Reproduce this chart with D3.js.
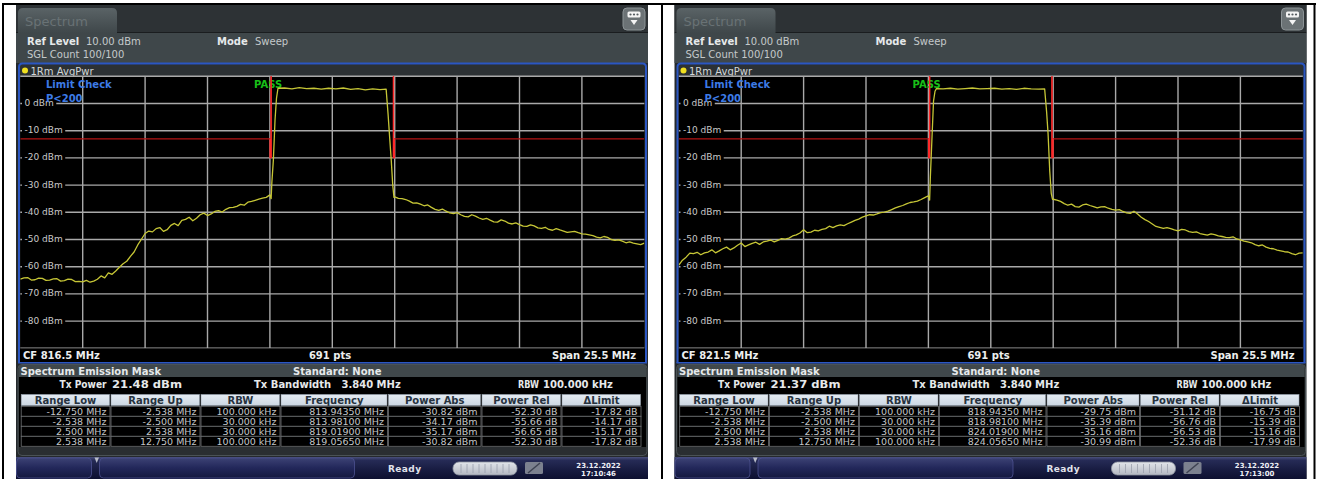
<!DOCTYPE html>
<html><head><meta charset="utf-8">
<script src="https://cdn.jsdelivr.net/npm/d3@7"></script>
<style>
html,body{margin:0;padding:0;background:#fff;}
svg{display:block;font-family:"DejaVu Sans",Verdana,sans-serif;}
</style></head><body>
<svg id="chart" width="1318" height="479"></svg>
<script>
// ---- Spectrum emission mask sweeps, two carriers (CF 816.5 / 821.5 MHz) ----
// frequency offset from the centre frequency, MHz
const offsetsMHz = [
  // lower skirt
  -12.75,-12.60,-12.45,-12.30,-12.15,-12.00,-11.85,-11.70,-11.55,-11.40,
  -11.25,-11.10,-10.95,-10.80,-10.65,-10.50,-10.35,-10.20,-10.05,-9.90,
  -9.75,-9.60,-9.45,-9.30,-9.15,-9.00,-8.85,-8.70,-8.55,-8.40,
  -8.25,-8.10,-7.95,-7.80,-7.65,-7.50,-7.35,-7.20,-7.05,-6.90,
  -6.75,-6.60,-6.45,-6.30,-6.15,-6.00,-5.85,-5.70,-5.55,-5.40,
  -5.25,-5.10,-4.95,-4.80,-4.65,-4.50,-4.35,-4.20,-4.05,-3.90,
  -3.75,-3.60,-3.45,-3.30,-3.15,-3.00,-2.85,-2.70,-2.55,
  // channel
  -2.50,-2.47,-2.41,-2.34,-2.28,-2.22,
  -1.95,-1.65,-1.35,-1.05,-0.75,-0.45,-0.15,0.15,0.45,0.75,1.05,1.35,1.65,1.95,
  2.20,2.28,2.34,2.41,2.47,2.52,
  // upper skirt
  2.55,2.70,2.85,3.00,3.15,3.30,3.45,3.60,3.75,3.90,
  4.05,4.20,4.35,4.50,4.65,4.80,4.95,5.10,5.25,5.40,
  5.55,5.70,5.85,6.00,6.15,6.30,6.45,6.60,6.75,6.90,
  7.05,7.20,7.35,7.50,7.65,7.80,7.95,8.10,8.25,8.40,
  8.55,8.70,8.85,9.00,9.15,9.30,9.45,9.60,9.75,9.90,
  10.05,10.20,10.35,10.50,10.65,10.80,10.95,11.10,11.25,11.40,
  11.55,11.70,11.85,12.00,12.15,12.30,12.45,12.60,12.75
];
// measured level, dBm (CF 816.5 MHz)
const levelsCF8165 = [
  -64.6,-64.1,-64.0,-64.9,-64.8,-64.2,-64.3,-65.0,-64.9,-64.5,
  -64.4,-65.3,-65.1,-64.6,-64.7,-65.5,-65.4,-65.6,-65.0,-65.7,
  -65.3,-64.6,-63.4,-64.1,-62.3,-62.8,-61.6,-60.2,-58.9,-58.0,
  -56.2,-54.6,-52.0,-49.9,-47.8,-46.9,-47.2,-46.0,-45.6,-47.0,
  -46.4,-44.8,-44.1,-44.9,-43.0,-42.6,-41.8,-43.1,-42.2,-40.9,
  -40.3,-41.2,-40.6,-39.7,-39.4,-39.9,-38.9,-38.3,-38.2,-37.8,
  -37.1,-37.4,-36.3,-36.0,-35.6,-35.2,-34.8,-34.5,-33.6,
  -35.0,-29,-21,-6,2,5.6,
  5.7,5.4,5.8,5.5,5.6,5.3,5.6,5.4,5.7,5.2,5.5,5.0,5.4,5.1,
  5.3,-4,-12,-21,-30,-34.5,
  -34.3,-34.9,-35.0,-35.3,-35.9,-36.6,-36.5,-37.0,-37.6,-37.3,
  -38.2,-38.9,-39.3,-38.8,-39.6,-40.2,-40.5,-40.1,-40.9,-41.5,
  -41.7,-40.9,-41.4,-42.1,-42.6,-42.2,-42.9,-43.5,-43.6,-42.8,
  -43.2,-44.0,-44.3,-43.9,-44.5,-45.1,-45.2,-44.6,-45.0,-45.7,
  -45.9,-45.5,-46.3,-46.6,-46.0,-46.5,-46.9,-47.4,-47.2,-47.0,
  -47.5,-47.9,-48.0,-48.3,-48.6,-49.1,-49.4,-48.9,-49.2,-50.0,
  -50.3,-50.1,-50.6,-51.2,-50.9,-51.3,-51.6,-51.9,-51.3
];
// measured level, dBm (CF 821.5 MHz)
const levelsCF8215 = [
  -59.4,-57.6,-56.5,-55.0,-55.2,-54.7,-55.6,-54.9,-54.6,-53.8,
  -54.9,-54.2,-53.4,-52.8,-53.8,-53.1,-52.1,-51.3,-52.6,-52.0,
  -51.4,-51.0,-51.8,-50.9,-50.6,-50.2,-50.9,-50.3,-49.7,-49.9,
  -49.5,-48.7,-48.3,-47.6,-46.4,-47.5,-47.3,-46.6,-46.8,-46.3,
  -46.0,-45.1,-45.6,-45.0,-44.6,-44.9,-44.2,-43.6,-43.0,-42.5,
  -41.8,-41.3,-40.9,-41.0,-40.6,-40.1,-39.9,-39.6,-39.0,-38.4,
  -37.9,-37.5,-36.9,-36.4,-36.2,-35.9,-35.3,-34.6,-33.9,
  -35.5,-27,-14,1,4.5,5.5,
  5.4,5.6,5.3,5.5,5.7,5.4,5.5,5.6,5.3,5.5,5.2,5.6,5.4,5.3,
  5.4,-3,-11,-25,-33,-35.2,
  -35.2,-35.5,-36.0,-36.8,-37.4,-37.0,-37.9,-38.1,-37.3,-37.0,
  -37.5,-37.9,-38.4,-38.0,-37.9,-38.5,-38.9,-39.2,-39.0,-39.7,
  -40.2,-40.4,-39.6,-40.6,-41.8,-42.7,-43.4,-44.3,-45.2,-45.5,
  -45.9,-45.6,-46.0,-46.5,-46.8,-46.3,-46.5,-47.1,-47.4,-47.2,
  -47.8,-48.1,-48.4,-47.9,-48.2,-48.7,-48.9,-49.2,-49.3,-49.0,
  -49.8,-50.1,-50.6,-50.9,-51.2,-51.9,-52.3,-52.0,-52.8,-53.3,
  -53.4,-53.9,-54.2,-54.5,-54.6,-55.2,-55.6,-55.0,-54.9
];

// emission mask limit (dBm) vs offset (MHz)
const limitOffsetsMHz = [-12.75,-2.538,-2.538,-2.5,-2.5,2.5,2.5,2.538,2.538,12.75];
const limitLevelsDbm  = [-13,-13,-20,-20,30,30,-20,-20,-13,-13];

const gridOffsetsMHz = [-10.2,-7.65,-5.1,-2.55,0,2.55,5.1,7.65,10.2];
const levelTicksDbm = [0,-10,-20,-30,-40,-50,-60,-70,-80];

const centreFreqMHz = [816.5, 821.5];
const sweepPoints = 691;
const txPowerDbm = [21.48, 21.37];
const sweepDate = ["23.12.2022", "23.12.2022"];
const sweepTime = ["17:10:46", "17:13:00"];

const semColumns = ["Range Low","Range Up","RBW","Frequency","Power Abs","Power Rel","\u0394Limit"];
const rangeLow = ["-12.750 MHz","-2.538 MHz","2.500 MHz","2.538 MHz"];
const rangeUp  = ["-2.538 MHz","-2.500 MHz","2.538 MHz","12.750 MHz"];
const rbwList  = ["100.000 kHz","30.000 kHz","30.000 kHz","100.000 kHz"];
const peakFreqA = ["813.94350 MHz","813.98100 MHz","819.01900 MHz","819.05650 MHz"];
const powerAbsA = [-30.82,-34.17,-35.17,-30.82];
const powerRelA = [-52.30,-55.66,-56.65,-52.30];
const deltaLimitA = [-17.82,-14.17,-15.17,-17.82];
const peakFreqB = ["818.94350 MHz","818.98100 MHz","824.01900 MHz","824.05650 MHz"];
const powerAbsB = [-29.75,-35.39,-35.16,-30.99];
const powerRelB = [-51.12,-56.76,-56.53,-52.36];
const deltaLimitB = [-16.75,-15.39,-15.16,-17.99];

// ---- drawing ----
const svg = d3.select("#chart");
const defs = svg.append("defs");

function vGrad(id, stops) {
  const lg = defs.append("linearGradient").attr("id", id)
    .attr("x1", 0).attr("y1", 0).attr("x2", 0).attr("y2", 1);
  stops.forEach(([o, c]) => lg.append("stop").attr("offset", o).attr("stop-color", c));
}
vGrad("tabGrad", [[0, "#5a6366"], [1, "#3f474a"]]);
vGrad("barGrad", [[0, "#4a507c"], [0.15, "#262b56"], [0.6, "#171b40"], [1, "#0d1030"]]);
vGrad("btnGrad", [[0, "#3c4274"], [0.5, "#22275a"], [1, "#14183e"]]);
vGrad("pillGrad", [[0, "#e2e5ea"], [1, "#b4b8c2"]]);
vGrad("hdrGrad", [[0, "#e4ebf2"], [1, "#ccd7e2"]]);

defs.append("clipPath").attr("id", "plotClip")
  .append("rect").attr("x", 20.3).attr("y", 76.3).attr("width", 624).attr("height", 272);

const x = d3.scaleLinear().domain([-12.75, 12.75]).range([20.3, 644.3]);
const y = d3.scaleLinear().domain([10, -90]).range([76.3, 348.3]);

const colEdges = [20.7, 110.5, 200.5, 280.5, 388, 481.5, 561.5, 641.5];
const fmt2 = v => v.toFixed(2);

const panels = [
  {dx: 0, levels: levelsCF8165, freq: peakFreqA, abs: powerAbsA, rel: powerRelA, dl: deltaLimitA},
  {dx: 658.5, levels: levelsCF8215, freq: peakFreqB, abs: powerAbsB, rel: powerRelB, dl: deltaLimitB}
];

function txt(g, s, px, py, o = {}) {
  const t = g.append("text").attr("x", px).attr("y", py).text(s)
    .attr("font-size", o.size || 10)
    .attr("font-weight", o.bold ? "bold" : "normal")
    .attr("fill", o.fill || "#c8ccce")
    .attr("text-anchor", o.anchor || "start");
  if (o.ls) t.attr("letter-spacing", o.ls);
  if (o.len) t.attr("textLength", o.len).attr("lengthAdjust", "spacingAndGlyphs");
  return t;
}

// vertical steps of the mask, drawn brighter than the flat limits
const limitPts = limitOffsetsMHz.map((o, k) => [o, limitLevelsDbm[k]]);
const limitSteps = d3.pairs(limitPts).filter(([a, b]) => a[0] === b[0]);

panels.forEach((p, i) => {
  const g = svg.append("g").attr("transform", `translate(${p.dx},0)`);

  // instrument screen background
  g.append("rect").attr("x", 16).attr("y", 5).attr("width", 632).attr("height", 474).attr("fill", "#25292c");
  g.append("rect").attr("x", 16).attr("y", 5).attr("width", 632).attr("height", 27).attr("fill", "#2d3235");
  g.append("rect").attr("x", 16).attr("y", 32).attr("width", 632).attr("height", 1.2).attr("fill", "#1a1d1f");
  g.append("rect").attr("x", 16).attr("y", 33).attr("width", 632).attr("height", 30).attr("fill", "#3f474a");

  // tab
  g.append("path").attr("d", "M18,33 L18,13 Q18,8 23,8 L112,8 Q117,8 117,13 L117,33 Z").attr("fill", "url(#tabGrad)");
  txt(g, "Spectrum", 25, 26, {size: 13, fill: "#697275"});

  // menu icon
  g.append("rect").attr("x", 623).attr("y", 8).attr("width", 22).attr("height", 22).attr("rx", 4)
    .attr("fill", "#6b7275").attr("stroke", "#8c9396");
  g.append("rect").attr("x", 627.5).attr("y", 11.5).attr("width", 13).attr("height", 6).attr("rx", 1.5).attr("fill", "#f4f4f4");
  [630.5, 634, 637.5].forEach(cx => g.append("circle").attr("cx", cx).attr("cy", 14.5).attr("r", 1.1).attr("fill", "#555c60"));
  g.append("path").attr("d", "M630.5,20 L637.5,20 L634,25 Z").attr("fill", "#f4f4f4");

  // header info
  txt(g, "Ref Level", 27, 45, {bold: true, fill: "#e6e9ea"});
  txt(g, "10.00 dBm", 86, 45, {fill: "#c4c9cb"});
  txt(g, "Mode", 217, 45, {bold: true, fill: "#e6e9ea"});
  txt(g, "Sweep", 255, 45, {fill: "#c4c9cb"});
  txt(g, "SGL Count 100/100", 27, 58, {fill: "#c4c9cb"});

  // diagram header row
  g.append("rect").attr("x", 20).attr("y", 64.5).attr("width", 625).attr("height", 12).attr("fill", "#2c3134");
  g.append("circle").attr("cx", 25).attr("cy", 70.6).attr("r", 3).attr("fill", "#f0e020");
  txt(g, "1Rm AvgPwr", 30.5, 74.5, {fill: "#d2d6d7"});

  // plot area
  g.append("rect").attr("x", 20.3).attr("y", 76.3).attr("width", 624).attr("height", 272).attr("fill", "#000");

  const grid = g.append("g").attr("stroke", "#a9a9a9").attr("stroke-width", 1.4);
  grid.selectAll("line.v").data(gridOffsetsMHz).join("line")
    .attr("x1", d => x(d)).attr("x2", d => x(d)).attr("y1", y(10)).attr("y2", y(-90));
  grid.selectAll("line.h").data(y.ticks(10)).join("line")
    .attr("x1", x(-12.75)).attr("x2", x(12.75)).attr("y1", d => y(d)).attr("y2", d => y(d));

  // level labels, each with a black patch behind it
  const tl = g.append("g");
  levelTicksDbm.forEach(v => {
    const t = txt(tl, `${v} dBm`, 24.5, y(v), {size: 9, fill: "#c9c9c9"}).attr("dominant-baseline", "middle");
    const w = t.node().getComputedTextLength();
    tl.insert("rect", "text").attr("x", 22).attr("y", y(v) - 2).attr("width", w + 5).attr("height", 4).attr("fill", "#000");
  });

  // limit check status
  txt(g, "Limit Check", 46, 88, {bold: true, fill: "#3d7be6"});
  txt(g, "P<200", 46, 101.5, {bold: true, fill: "#3d7be6"});
  txt(g, "PASS", 254, 87.5, {bold: true, fill: "#18c018"});

  const pc = g.append("g").attr("clip-path", "url(#plotClip)");
  const line = d3.line().x(d => x(d[0])).y(d => y(d[1]));
  pc.append("path").datum(limitPts)
    .attr("d", line).attr("fill", "none").attr("stroke", "#b41414").attr("stroke-width", 1.1);
  pc.selectAll("line.step").data(limitSteps).join("line")
    .attr("x1", d => x(d[0][0])).attr("x2", d => x(d[1][0]))
    .attr("y1", d => y(d[0][1])).attr("y2", d => y(d[1][1]))
    .attr("stroke", "#ff2a2a").attr("stroke-width", 1.4);

  pc.append("path").datum(offsetsMHz.map((o, k) => [o, p.levels[k]]))
    .attr("d", line).attr("fill", "none").attr("stroke", "#c6c636").attr("stroke-width", 1.3)
    .attr("stroke-linejoin", "round");

  // status row under diagram
  g.append("rect").attr("x", 20).attr("y", 348.3).attr("width", 625).attr("height", 14).attr("fill", "#000");
  txt(g, `CF ${centreFreqMHz[i]} MHz`, 23, 359, {bold: true, fill: "#eceeee"});
  txt(g, `${sweepPoints} pts`, 330, 359, {bold: true, fill: "#eceeee", anchor: "middle"});
  txt(g, "Span 25.5 MHz", 636, 359, {bold: true, fill: "#eceeee", anchor: "end"});

  // diagram frame
  g.append("path").attr("d", "M19,363 L19,67 Q19,63.5 22.5,63.5 L642.5,63.5 Q646,63.5 646,67 L646,363")
    .attr("fill", "none").attr("stroke", "#2b56c2").attr("stroke-width", 2);
  g.append("line").attr("x1", 18).attr("x2", 647).attr("y1", 362.7).attr("y2", 362.7).attr("stroke", "#2b56c2").attr("stroke-width", 1.5);

  // result summary
  g.append("rect").attr("x", 18).attr("y", 364.5).attr("width", 629).attr("height", 91).attr("rx", 4)
    .attr("fill", "#2a2e31").attr("stroke", "#4a5255").attr("stroke-width", 1);
  g.append("rect").attr("x", 19).attr("y", 365).attr("width", 627).attr("height", 12).attr("fill", "#40484b");
  txt(g, "Spectrum Emission Mask", 20.5, 375, {bold: true, fill: "#e6e9ea"});
  txt(g, "Standard: None", 293, 375, {bold: true, fill: "#e6e9ea"});
  g.append("rect").attr("x", 19).attr("y", 377).attr("width", 627).attr("height", 70).attr("fill", "#000");
  txt(g, "Tx Power", 59.5, 387.5, {bold: true, fill: "#e6e9ea", len: 47});
  txt(g, `${fmt2(txPowerDbm[i])} dBm`, 112, 387.5, {bold: true, fill: "#e6e9ea", len: 70});
  txt(g, "Tx Bandwidth", 254, 387.5, {bold: true, fill: "#e6e9ea"});
  txt(g, "3.840 MHz", 341.5, 387.5, {bold: true, fill: "#e6e9ea"});
  txt(g, "RBW", 518, 387.5, {bold: true, fill: "#e6e9ea", len: 21});
  txt(g, "100.000 kHz", 543, 387.5, {bold: true, fill: "#e6e9ea"});

  // result table
  const tb = g.append("g");
  semColumns.forEach((h, c) => {
    tb.append("rect").attr("x", colEdges[c] + 0.5).attr("y", 394.5).attr("width", colEdges[c + 1] - colEdges[c] - 1.5)
      .attr("height", 11).attr("fill", "url(#hdrGrad)").attr("stroke", "#9aa6b2").attr("stroke-width", 0.6);
    txt(tb, h, (colEdges[c] + colEdges[c + 1]) / 2, 404, {bold: true, fill: "#26323e", anchor: "middle"});
  });
  const rows = rangeLow.map((r, k) => [r, rangeUp[k], rbwList[k], p.freq[k],
    `${fmt2(p.abs[k])} dBm`, `${fmt2(p.rel[k])} dB`, `${fmt2(p.dl[k])} dB`]);
  rows.forEach((row, k) => {
    const top = 406.3 + k * 10;
    row.forEach((cell, c) => {
      tb.append("rect").attr("x", colEdges[c] + 0.5).attr("y", top).attr("width", colEdges[c + 1] - colEdges[c] - 1)
        .attr("height", 10).attr("fill", "#000").attr("stroke", "#6f7274").attr("stroke-width", 0.8);
      txt(tb, cell, colEdges[c + 1] - 4, top + 8.4, {size: 9.5, fill: "#c4c6c8", anchor: "end"});
    });
  });

  // status bar
  g.append("rect").attr("x", 16).attr("y", 457).attr("width", 632).attr("height", 22).attr("fill", "url(#barGrad)");
  g.append("rect").attr("x", 16.5).attr("y", 458).attr("width", 75).attr("height", 20).attr("rx", 4)
    .attr("fill", "url(#btnGrad)").attr("stroke", "#4c5290").attr("stroke-width", 0.8);
  g.append("rect").attr("x", 99.5).attr("y", 458).attr("width", 255).attr("height", 20).attr("rx", 4)
    .attr("fill", "url(#btnGrad)").attr("stroke", "#4c5290").attr("stroke-width", 0.8);
  g.append("path").attr("d", "M94.5,457.5 L99,457.5 L96.7,463 Z").attr("fill", "#b8bcc8");
  txt(g, "Ready", 388, 472, {bold: true, size: 9, fill: "#e2e4ec", ls: 0.4});
  g.append("rect").attr("x", 453).attr("y", 462).attr("width", 64).attr("height", 13).attr("rx", 6)
    .attr("fill", "url(#pillGrad)").attr("stroke", "#8d93a0").attr("stroke-width", 0.8);
  for (let s = 0; s < 9; s++) {
    g.append("line").attr("x1", 461 + s * 6).attr("x2", 461 + s * 6).attr("y1", 464).attr("y2", 473)
      .attr("stroke", "#9aa0ac").attr("stroke-width", 0.8);
  }
  g.append("rect").attr("x", 525).attr("y", 462).attr("width", 18).attr("height", 12).attr("rx", 1.5).attr("fill", "#7c818f");
  g.append("line").attr("x1", 528).attr("x2", 540).attr("y1", 473).attr("y2", 463).attr("stroke", "#3e4252").attr("stroke-width", 1.5);
  txt(g, sweepDate[i], 598.5, 468, {bold: true, size: 7, fill: "#eef0f6", anchor: "middle"});
  txt(g, sweepTime[i], 598.5, 476, {bold: true, size: 7, fill: "#eef0f6", anchor: "middle"});
});

// document table rules around the two screens
const rules = svg.append("g").attr("fill", "#000");
rules.append("rect").attr("x", 2).attr("y", 3).attr("width", 1314).attr("height", 2);
rules.append("rect").attr("x", 2).attr("y", 3).attr("width", 2).attr("height", 476);
rules.append("rect").attr("x", 661).attr("y", 3).attr("width", 2).attr("height", 476);
rules.append("rect").attr("x", 1313.5).attr("y", 3).attr("width", 2).attr("height", 476);
</script>
</body></html>
